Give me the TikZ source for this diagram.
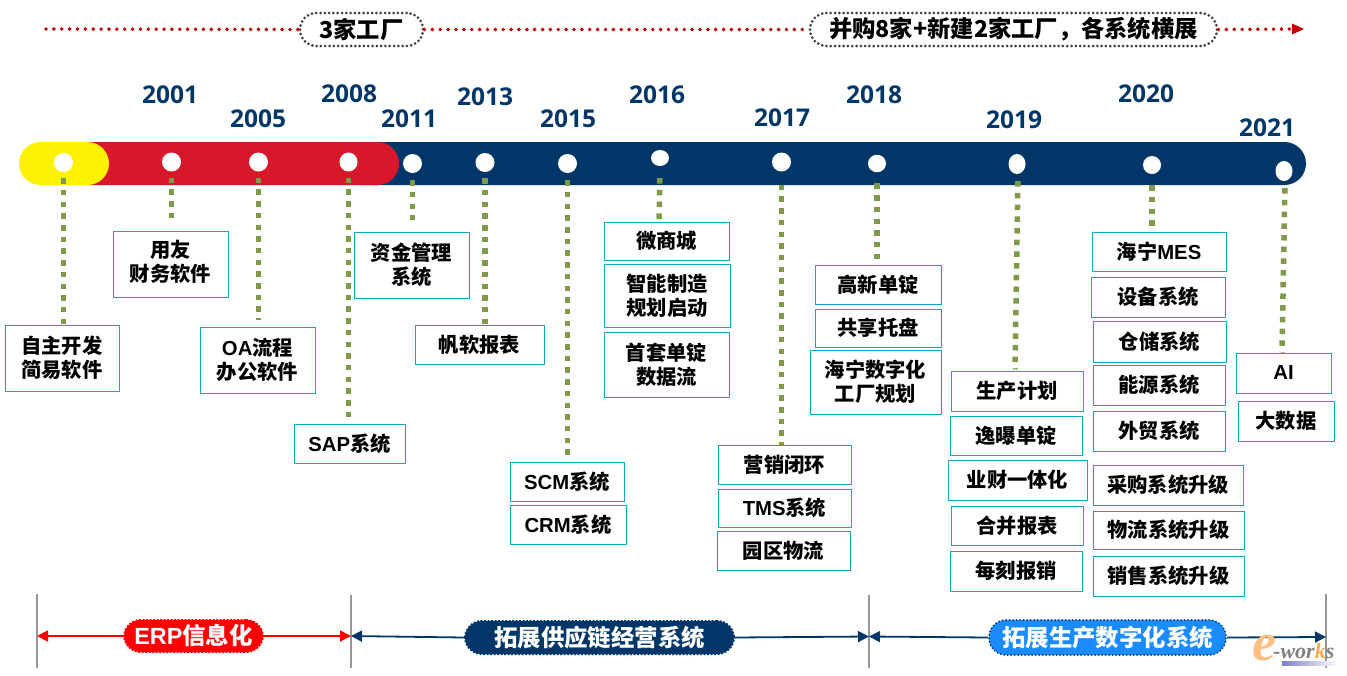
\documentclass[tikz,border=0pt]{standalone}
\usepackage{fontspec}
\setmainfont{Noto Sans CJK SC}
\newfontfamily\lat{Liberation Sans}
\newfontfamily\yr{Open Sans}
\newfontfamily\wm{Liberation Serif}
\usetikzlibrary{arrows.meta,shapes.geometric}
\definecolor{navy}{HTML}{003768}
\definecolor{barred}{HTML}{D7182A}
\definecolor{teal}{HTML}{12A5BD}
\definecolor{gline}{HTML}{7F9A48}
\definecolor{topred}{HTML}{C00000}
\definecolor{pillblue}{HTML}{1A8CFF}
\definecolor{vgray}{HTML}{969696}
\tikzset{
  boxn/.style={draw=teal,line width=1pt,fill=white,inner sep=0pt,align=center,font=\fontsize{20.3}{24}\selectfont\bfseries},
  yearn/.style={text=navy,font=\fontsize{24.5}{28}\selectfont\yr\bfseries,inner sep=0pt},
  dotn/.style={ellipse,fill=white,inner sep=0pt,minimum width=19pt,minimum height=19pt},
  gconn/.style={draw=gline,line width=5.5pt,dash pattern=on 5.5pt off 6.2pt},
  topdots/.style={draw=topred,line width=3.9pt,line cap=round,dash pattern=on 0pt off 7.87pt},
  toppill/.style={draw=black!75,fill=white,line width=3pt,line cap=round,dash pattern=on 0pt off 4.3pt,rounded corners=16.5pt,inner sep=0pt,font=\fontsize{23.3}{27}\selectfont\bfseries},
  phasepill/.style={inner sep=0pt,rounded corners=17pt,text=white,line width=2pt,font=\fontsize{23.4}{27}\selectfont\bfseries},
  vrule/.style={draw=vgray,line width=1.6pt},
  tip/.style={-{Triangle[length=11pt,width=11pt]},line width=1.8pt},
  tipb/.style={{Triangle[length=11pt,width=11pt]}-,line width=1.8pt}
}
\newcommand{\bx}[6]{\node[boxn,minimum width={(#4-#2)*1pt},minimum height={(#5-#3)*1pt}] (#1) at ({(#2+#4)/2},{(#3+#5)/2}) {#6};}
\newcommand{\yrn}[3]{\node[yearn] (y#3) at (#1,#2) {#3};}
\newcommand{\dt}[3]{\node[dotn] (#1) at (#2,#3) {};}
\newcommand{\up}{\rule[-7pt]{0pt}{1pt}}
\begin{document}
\begin{tikzpicture}[x=1pt,y=-1pt]
\useasboundingbox (0,0) rectangle (1347,675);
% top timeline
\coordinate (ts) at (46,29);
\coordinate (te) at (1304,29);
\node[toppill,minimum width=123pt,minimum height=33pt] (p1) at (361.5,29.5) {3家工厂};
\node[toppill,minimum width=407pt,minimum height=33pt] (p2) at (1013.5,29.5) {并购8家+新建2家工厂，各系统横展};
\draw[topdots] (ts) -- (p1.west);
\draw[topdots] (p1.east) -- (p2.west);
\draw[topdots,shorten >=14pt] (p2.east) -- (te);
\fill[topred] (1304,29) -- (1292,23.5) -- (1292,34.5) -- cycle;
% bar
\fill[navy,rounded corners=21.5pt] (340,142) rectangle (1306,185);
\fill[barred,rounded corners=21.5pt] (60,142) rectangle (399,185);
\fill[yellow,rounded corners=21.5pt] (19,142) rectangle (109,185);
% years
\yrn{170}{95}{2001}
\yrn{258}{119}{2005}
\yrn{349}{94}{2008}
\yrn{409}{119}{2011}
\yrn{485}{97}{2013}
\yrn{568}{119}{2015}
\yrn{657}{95}{2016}
\yrn{782}{118}{2017}
\yrn{874}{95}{2018}
\yrn{1014}{120}{2019}
\yrn{1146}{94}{2020}
\yrn{1267}{128}{2021}
% dots
\dt{d0}{63.5}{162.5}
\dt{d1}{171.5}{162}
\dt{d2}{258.5}{162}
\node[dotn,minimum width=18pt] (d3) at (348.5,162) {};
\dt{d4}{412.5}{163.5}
\dt{d5}{485}{162.5}
\dt{d6}{567.5}{163.5}
\node[dotn,minimum width=18pt,minimum height=16pt] (d7) at (660,158) {};
\dt{d8}{781.5}{162}
\node[dotn,minimum width=18pt,minimum height=17.5pt] (d9) at (877,163.5) {};
\node[dotn,minimum width=17pt,minimum height=20pt] (d10) at (1017,164) {};
\node[dotn,minimum width=18pt,minimum height=18pt] (d11) at (1152,165) {};
\node[dotn,minimum width=17pt,minimum height=20pt] (d12) at (1284,171) {};
% boxes
\bx{b0}{5}{325}{119}{391}{自主开发\\简易软件}
\bx{b1}{113}{231}{228}{297}{用友\\财务软件\up}
\bx{b2}{200}{327}{315}{393}{{\lat OA}流程\\办公软件}
\bx{b3}{294}{424}{405}{463}{{\lat SAP}系统}
\bx{b4}{354}{232}{469}{298}{资金管理\\系统}
\bx{b5}{415}{325}{544}{364}{帆软报表}
\bx{b6}{510}{462}{624}{501}{{\lat SCM}系统}
\bx{b6b}{510}{505}{626}{544}{{\lat CRM}系统}
\bx{b7}{604}{222}{729}{260}{微商城}
\bx{b7b}{604}{264}{730}{327}{智能制造\\规划启动}
\bx{b7c}{604}{332}{729}{397}{首套单锭\\数据流}
\bx{b8}{718}{445}{851}{484}{营销闭环}
\bx{b8b}{718}{489}{851}{527}{{\lat TMS}系统}
\bx{b8c}{717}{531}{850}{570}{园区物流}
\bx{b9}{815}{265}{941}{304}{高新单锭}
\bx{b9b}{815}{309}{941}{347}{共享托盘}
\bx{b9c}{810}{350}{941}{414}{海宁数字化\\工厂规划}
\bx{b10}{951}{371}{1083}{411}{生产计划}
\bx{b10b}{950}{416}{1082}{455}{逸曝单锭}
\bx{b10c}{948}{460}{1087}{500}{业财一体化}
\bx{b10d}{951}{506}{1083}{545}{合并报表}
\bx{b10e}{950}{551}{1082}{591}{每刻报销}
\bx{b11}{1092}{232}{1226}{271}{海宁{\lat MES}}
\bx{b11b}{1091}{277}{1225}{317}{设备系统}
\bx{b11c}{1093}{321}{1226}{362}{仓储系统}
\bx{b11d}{1093}{365}{1225}{405}{能源系统}
\bx{b11e}{1093}{411}{1225}{451}{外贸系统}
\bx{b11f}{1093}{465}{1243}{505}{采购系统升级}
\bx{b11g}{1093}{511}{1244}{549}{物流系统升级}
\bx{b11h}{1093}{556}{1244}{596}{销售系统升级}
\bx{b12}{1236}{353}{1331}{393}{{\lat AI}}
\bx{b12b}{1238}{401}{1334}{441}{大数据}
% connectors (dot to box)
\draw[gconn,shorten <=6pt]  (d0.south) -- (d0.south |- b0.north);
\draw[gconn,shorten <=6pt,shorten >=13pt] (d1.south) -- (d1.south |- b1.north);
\draw[gconn,shorten <=6pt,shorten >=7pt] (d2.south) -- (d2.south |- b2.north);
\draw[gconn,shorten <=6pt,shorten >=6pt] (d3.south) -- (d3.south |- b3.north);
\draw[gconn,shorten <=7pt,shorten >=12pt] (d4.south) -- (d4.south |- b4.north);
\draw[gconn,shorten <=6pt] (d5.south) -- (d5.south |- b5.north);
\draw[gconn,shorten <=7pt,shorten >=2pt] (d6.south) -- (d6.south |- b6.north);
\draw[gconn,shorten <=12pt,shorten >=2pt] (d7.south) -- ([xshift=-1pt]d7.south |- b7.north);
\draw[gconn,shorten <=13pt] (d8.south) -- (d8.south |- b8.north);
\draw[gconn,shorten <=11pt,shorten >=3pt] (d9.south) -- (d9.south |- b9.north);
\draw[gconn,shorten <=7pt,shorten >=1pt] ([xshift=1pt]d10.south) -- ([xshift=-2pt]d10.south |- b10.north);
\draw[gconn,shorten <=11pt] (d11.south) -- (d11.south |- b11.north);
\draw[gconn,shorten <=7pt] ([xshift=1pt]d12.south) -- ([xshift=-2pt]d12.south |- b12.north);
% phase section
\coordinate (v1t) at (37,594); \coordinate (v1b) at (37,668);
\coordinate (v2t) at (351,595); \coordinate (v2b) at (351,668);
\coordinate (v3t) at (869,595); \coordinate (v3b) at (869,668);
\coordinate (v4t) at (1326,594); \coordinate (v4b) at (1326,668);
\draw[vrule] (v1t) -- (v1b);
\draw[vrule] (v2t) -- (v2b);
\draw[vrule] (v3t) -- (v3b);
\draw[vrule] (v4t) -- (v4b);
\coordinate (a1) at (37,636);
\coordinate (a2) at (351,636);
\coordinate (a3) at (869,636.5);
\coordinate (a4) at (1326,637);
\node[phasepill,draw=red,fill=red,dash pattern=on 2pt off 1.5pt,minimum width=139pt,minimum height=32pt] (ph1) at (193.5,636) {{\lat ERP}信息化};
\node[phasepill,draw=navy,fill=navy,dash pattern=on 2pt off 1.5pt,minimum width=269pt,minimum height=33pt] (ph2) at (599.5,637.5) {拓展供应链经营系统};
\node[phasepill,draw=navy,fill=pillblue,line cap=round,dash pattern=on 0pt off 3.5pt,minimum width=237pt,minimum height=35pt] (ph3) at (1107.5,637.5) {拓展生产数字化系统};
\draw[tipb,draw=red,fill=red] (a1) -- (ph1.west);
\draw[tip,draw=red,fill=red] (ph1.east) -- (a2);
\draw[tipb,draw=navy,fill=navy] (a2) -- (ph2.west);
\draw[tip,draw=navy,fill=navy] (ph2.east) -- (a3);
\draw[tipb,draw=navy,fill=navy] (a3) -- (ph3.west);
\draw[tip,draw=navy,fill=navy] (ph3.east) -- (a4);
% watermark
\shade[left color=blue!45!gray!70,right color=white] (1282,661) rectangle (1338,665);
\node[inner sep=0pt,text=orange!50!white,font=\fontsize{54}{54}\selectfont\wm\itshape\bfseries] (wme) at (1264,648) {e};
\node[inner sep=0pt,anchor=west,text=black!50,font=\fontsize{22}{22}\selectfont\wm\itshape\bfseries] (wmt) at (1273,651) {-wor{\color{orange!70!white}k}s};
\end{tikzpicture}
\end{document}
